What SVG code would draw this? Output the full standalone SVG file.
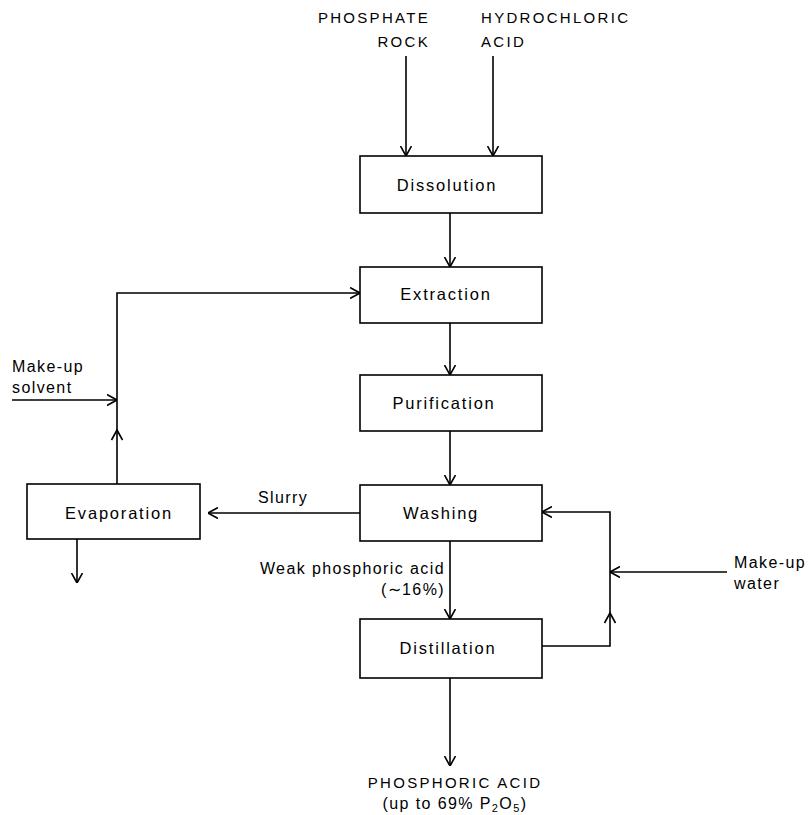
<svg xmlns="http://www.w3.org/2000/svg" width="808" height="815" viewBox="0 0 808 815">
<style>
.box{fill:#fff;stroke:#000;stroke-width:1.6}
.ln{fill:none;stroke:#000;stroke-width:1.6}
.chev{fill:none;stroke:#000;stroke-width:1.6}
text{font-family:"Liberation Sans",Arial,sans-serif;font-size:16px;fill:#000;letter-spacing:1.4px}
.bl{font-size:16.5px;letter-spacing:1.8px}
.cap{font-size:15px;letter-spacing:2.3px}
.c{text-anchor:middle}
.r{text-anchor:end}
</style>
<defs>
<marker id="ah" viewBox="0 0 10 12" refX="10" refY="6" markerWidth="10" markerHeight="12" markerUnits="userSpaceOnUse" orient="auto">
<path d="M0,0.5 L10,6 L0,11.5" fill="none" stroke="#000" stroke-width="1.6"/>
</marker>
</defs>
<rect width="808" height="815" fill="#fff"/>
<g id="connectors">
<line class="ln" x1="406" y1="56" x2="406" y2="156" marker-end="url(#ah)"/>
<line class="ln" x1="493" y1="56" x2="493" y2="156" marker-end="url(#ah)"/>
<line class="ln" x1="450" y1="213" x2="450" y2="267" marker-end="url(#ah)"/>
<line class="ln" x1="450" y1="323" x2="450" y2="375" marker-end="url(#ah)"/>
<line class="ln" x1="450" y1="431" x2="450" y2="485" marker-end="url(#ah)"/>
<line class="ln" x1="450" y1="541" x2="450" y2="619" marker-end="url(#ah)"/>
<line class="ln" x1="450" y1="678" x2="450" y2="766" marker-end="url(#ah)"/>
<polyline class="ln" points="117,484 117,293 360,293" marker-end="url(#ah)"/>
<path class="chev" d="M111.5,440 L117,430 L122.5,440"/>
<line class="ln" x1="12" y1="400" x2="117" y2="400" marker-end="url(#ah)"/>
<line class="ln" x1="360" y1="513" x2="208" y2="513" marker-end="url(#ah)"/>
<line class="ln" x1="77" y1="539" x2="77" y2="583" marker-end="url(#ah)"/>
<polyline class="ln" points="542,646 610,646 610,512 542,512" marker-end="url(#ah)"/>
<path class="chev" d="M604.5,623 L610,613 L615.5,623"/>
<line class="ln" x1="727" y1="572" x2="610" y2="572" marker-end="url(#ah)"/>
</g>
<g id="dissolution"><rect class="box" x="360" y="156" width="182" height="57"/><text class="bl c" x="447" y="191">Dissolution</text></g>
<g id="extraction"><rect class="box" x="360" y="267" width="182" height="56"/><text class="bl c" x="446" y="300">Extraction</text></g>
<g id="purification"><rect class="box" x="360" y="375" width="182" height="56"/><text class="bl c" x="444" y="409">Purification</text></g>
<g id="washing"><rect class="box" x="360" y="485" width="182" height="56"/><text class="bl c" x="441" y="519">Washing</text></g>
<g id="distillation"><rect class="box" x="360" y="619" width="182" height="59"/><text class="bl c" x="448" y="654">Distillation</text></g>
<g id="evaporation"><rect class="box" x="27" y="484" width="173" height="55"/><text class="bl c" x="119" y="519">Evaporation</text></g>
<g id="labels">
<text class="cap r" x="430" y="23">PHOSPHATE</text>
<text class="cap r" x="430" y="47">ROCK</text>
<text class="cap" x="481" y="23">HYDROCHLORIC</text>
<text class="cap" x="481" y="47">ACID</text>
<text x="12" y="372">Make-up</text>
<text x="12" y="393">solvent</text>
<text x="258" y="503">Slurry</text>
<text class="r" x="445" y="574">Weak phosphoric acid</text>
<text class="r" x="445" y="595">(∼16%)</text>
<text x="734" y="568">Make-up</text>
<text x="734" y="589">water</text>
<text class="cap c" x="455" y="788">PHOSPHORIC ACID</text>
<text class="c" x="455" y="809">(up to 69% P<tspan font-size="11" dy="3">2</tspan><tspan dy="-3">O</tspan><tspan font-size="11" dy="3">5</tspan><tspan dy="-3">)</tspan></text>
</g>
</svg>
